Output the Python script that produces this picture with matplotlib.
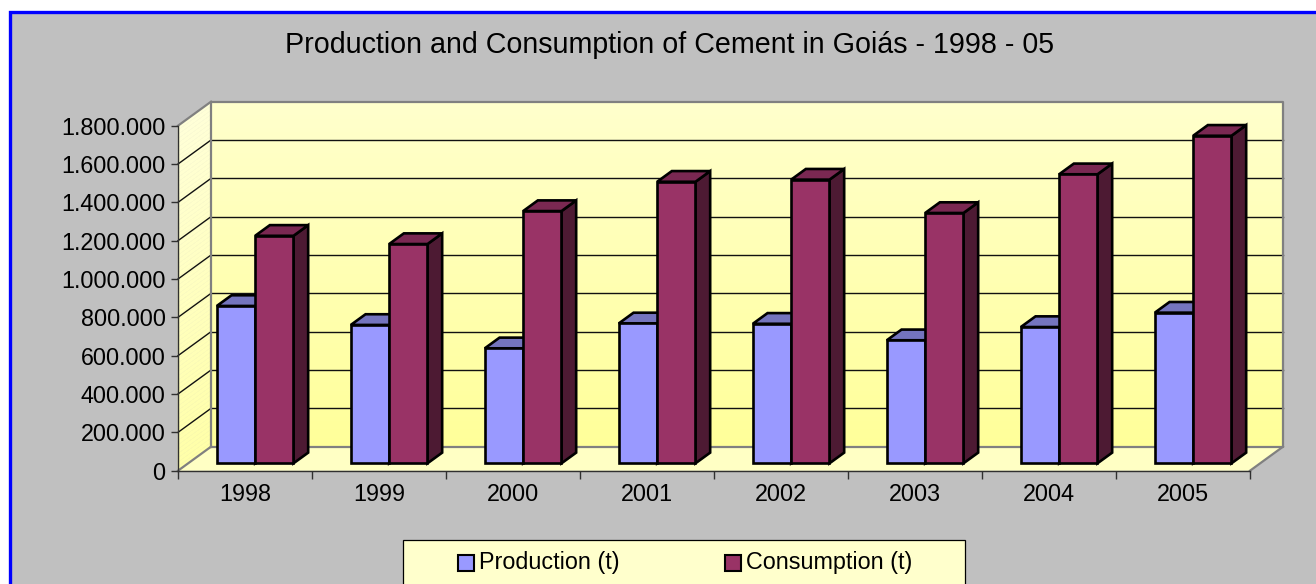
import numpy as np
import matplotlib
matplotlib.use("Agg")
import matplotlib.pyplot as plt
from matplotlib.patches import Polygon, Rectangle
from matplotlib.colors import LinearSegmentedColormap

plt.rcParams['font.family'] = ['Liberation Sans', 'DejaVu Sans']

# ---------------- data ----------------
years = ['1998', '1999', '2000', '2001', '2002', '2003', '2004', '2005']
production = [821000, 722000, 600000, 730000, 728000, 642000, 711000, 786000]
consumption = [1187000, 1144000, 1316000, 1469000, 1480000, 1306000, 1508000, 1709000]
series_names = ['Production (t)', 'Consumption (t)']
title = 'Production and Consumption of Cement in Goiás - 1998 - 05'
yticks = [0, 200000, 400000, 600000, 800000, 1000000, 1200000, 1400000, 1600000, 1800000]

# ---------------- style ----------------
W, H = 1316, 584
prod_colors = dict(front='#9999FF', top='#7474BE', side='#4C4C80')
cons_colors = dict(front='#993366', top='#7A2852', side='#4D1A33')

fig = plt.figure(figsize=(W / 100, H / 100), dpi=100, facecolor='white')

def fx(px):
    return px / W

def fy(py):
    return 1 - py / H

# background panel with blue border (left/top visible)
fig.patches.append(Rectangle((fx(10), -0.5), 1.5, fy(12) + 0.5, transform=fig.transFigure,
                             facecolor='#C0C0C0', edgecolor='#0000FF', lw=2.4, zorder=-10))

# axes on the front plane
ax_left, ax_right = 178, 1250
ax_bottom, ax_top = 470.7, 125.7
ax = fig.add_axes([fx(ax_left), fy(ax_bottom), (ax_right - ax_left) / W, (ax_bottom - ax_top) / H])
ax.set_zorder(1)
ax.set_facecolor('none')
ncat = len(years)
ymax = yticks[-1]
ax.set_xlim(0, ncat)
ax.set_ylim(0, ymax)

px_per_cat = (ax_right - ax_left) / ncat
px_per_val = (ax_bottom - ax_top) / ymax
DX = 33 / px_per_cat          # depth offset in category units
DY = 24 / px_per_val          # depth offset in value units

# ---- walls (vertical gradient, drawn as thin bands) ----
back_cmap = LinearSegmentedColormap.from_list('wall', ['#FFFF99', '#FFFFCC'])
left_cmap = LinearSegmentedColormap.from_list('lw', ['#FFFFA8', '#FFFFD8'])
nb = 80
edges = np.linspace(0, ymax, nb + 1)
for k in range(nb):
    a, b = edges[k], edges[k + 1]
    t = (k + 0.5) / nb
    ax.add_patch(Polygon([(DX, a + DY), (ncat + DX, a + DY), (ncat + DX, b + DY), (DX, b + DY)],
                         closed=True, facecolor=back_cmap(t), edgecolor=back_cmap(t), lw=0.3,
                         zorder=0.1, clip_on=False))
    ax.add_patch(Polygon([(0, a), (DX, a + DY), (DX, b + DY), (0, b)],
                         closed=True, facecolor=left_cmap(t), edgecolor=left_cmap(t), lw=0.3,
                         zorder=0.1, clip_on=False))

floor = Polygon([(0, 0), (ncat, 0), (ncat + DX, DY), (DX, DY)], closed=True,
                facecolor='#FFFFC4', edgecolor='none', zorder=0.2, clip_on=False)
ax.add_patch(floor)

# gridlines
for v in yticks[1:-1]:
    ax.plot([DX, ncat + DX], [v + DY, v + DY], color='#111111', lw=1.0, zorder=0.5, clip_on=False)
    ax.plot([0, DX], [v, v + DY], color='#111111', lw=1.0, zorder=0.5, clip_on=False)

# wall edges (gray)
edge_kw = dict(color='#808080', lw=1.6, zorder=0.6, clip_on=False, solid_capstyle='projecting')
ax.plot([DX, ncat + DX, ncat + DX, DX, DX], [DY, DY, ymax + DY, ymax + DY, DY], **edge_kw)
ax.plot([0, DX], [ymax, ymax + DY], **edge_kw)
ax.plot([0, DX], [0, DY], **edge_kw)
ax.plot([ncat, ncat + DX], [0, DY], **edge_kw)

# ---- 3D bars ----
bw = 0.286
fb = 0.308     # depth of bar front face (fraction of wall depth)
bd = 0.445     # bar depth (fraction)
bx0 = fb * DX
by0 = fb * DY
ddx = bd * DX
ddy = bd * DY

x = np.arange(ncat)
z = 2
for i in range(ncat):
    for vals, cols, off in ((production, prod_colors, -bw), (consumption, cons_colors, 0.0)):
        v = vals[i]
        left = x[i] + 0.5 + off + bx0
        right = left + bw
        bot = by0
        top = by0 + v
        side = Polygon([(right, bot), (right + ddx, bot + ddy), (right + ddx, top + ddy), (right, top)],
                       closed=True, facecolor=cols['side'], edgecolor='black', lw=1.9,
                       joinstyle='miter', zorder=z, clip_on=False)
        topf = Polygon([(left, top), (right, top), (right + ddx, top + ddy), (left + ddx, top + ddy)],
                       closed=True, facecolor=cols['top'], edgecolor='black', lw=1.9,
                       joinstyle='miter', zorder=z, clip_on=False)
        ax.add_patch(side)
        ax.add_patch(topf)
        bars = ax.bar([left], [v], bottom=bot, width=bw, align='edge', color=cols['front'],
                      edgecolor='black', lw=1.9, zorder=z + 0.5)
        for b in bars:
            b.set_clip_on(False)
            b.set_joinstyle('miter')
        z += 1

ax.set_xlim(0, ncat)
ax.set_ylim(0, ymax)

# ---- axes styling ----
for s in ('top', 'right'):
    ax.spines[s].set_visible(False)
for s in ('left', 'bottom'):
    ax.spines[s].set_color('#303030')
    ax.spines[s].set_linewidth(1.0)
    ax.spines[s].set_zorder(50)

ax.set_yticks(yticks)
ax.set_yticklabels([f'{v:,}'.replace(',', '.') for v in yticks])
ax.tick_params(axis='y', direction='out', length=5, width=1, color='#303030', pad=4,
               labelsize=16.8, labelcolor='black')
ax.set_xticks(np.arange(ncat + 1))
ax.set_xticklabels([])
ax.tick_params(axis='x', which='major', direction='out', length=6, width=1, color='#303030')
ax.set_xticks(x + 0.5, minor=True)
ax.set_xticklabels(years, minor=True)
ax.tick_params(axis='x', which='minor', length=0, pad=9, labelsize=16.8, labelcolor='black')

# ---- title ----
fig.text(fx(669.5), fy(45), title, ha='center', va='center', fontsize=20.6, color='black')

# ---- legend (drawn manually) ----
fig.patches.append(Rectangle((fx(403.3), fy(620)), (965 - 403.3) / W, (620 - 539.5) / H,
                             transform=fig.transFigure, facecolor='#FFFFCC', edgecolor='black',
                             lw=0.9, zorder=5))
for name, cols, sx, tx in ((series_names[0], prod_colors, 458, 479),
                           (series_names[1], cons_colors, 725, 746)):
    fig.patches.append(Rectangle((fx(sx), fy(570.5)), 16 / W, 15.5 / H, transform=fig.transFigure,
                                 facecolor=cols['front'], edgecolor='black', lw=1.5, zorder=6))
    fig.text(fx(tx), fy(562.5), name, ha='left', va='center', fontsize=16.8, color='black', zorder=7)

fig.savefig('out.png', dpi=100, facecolor=fig.get_facecolor())
